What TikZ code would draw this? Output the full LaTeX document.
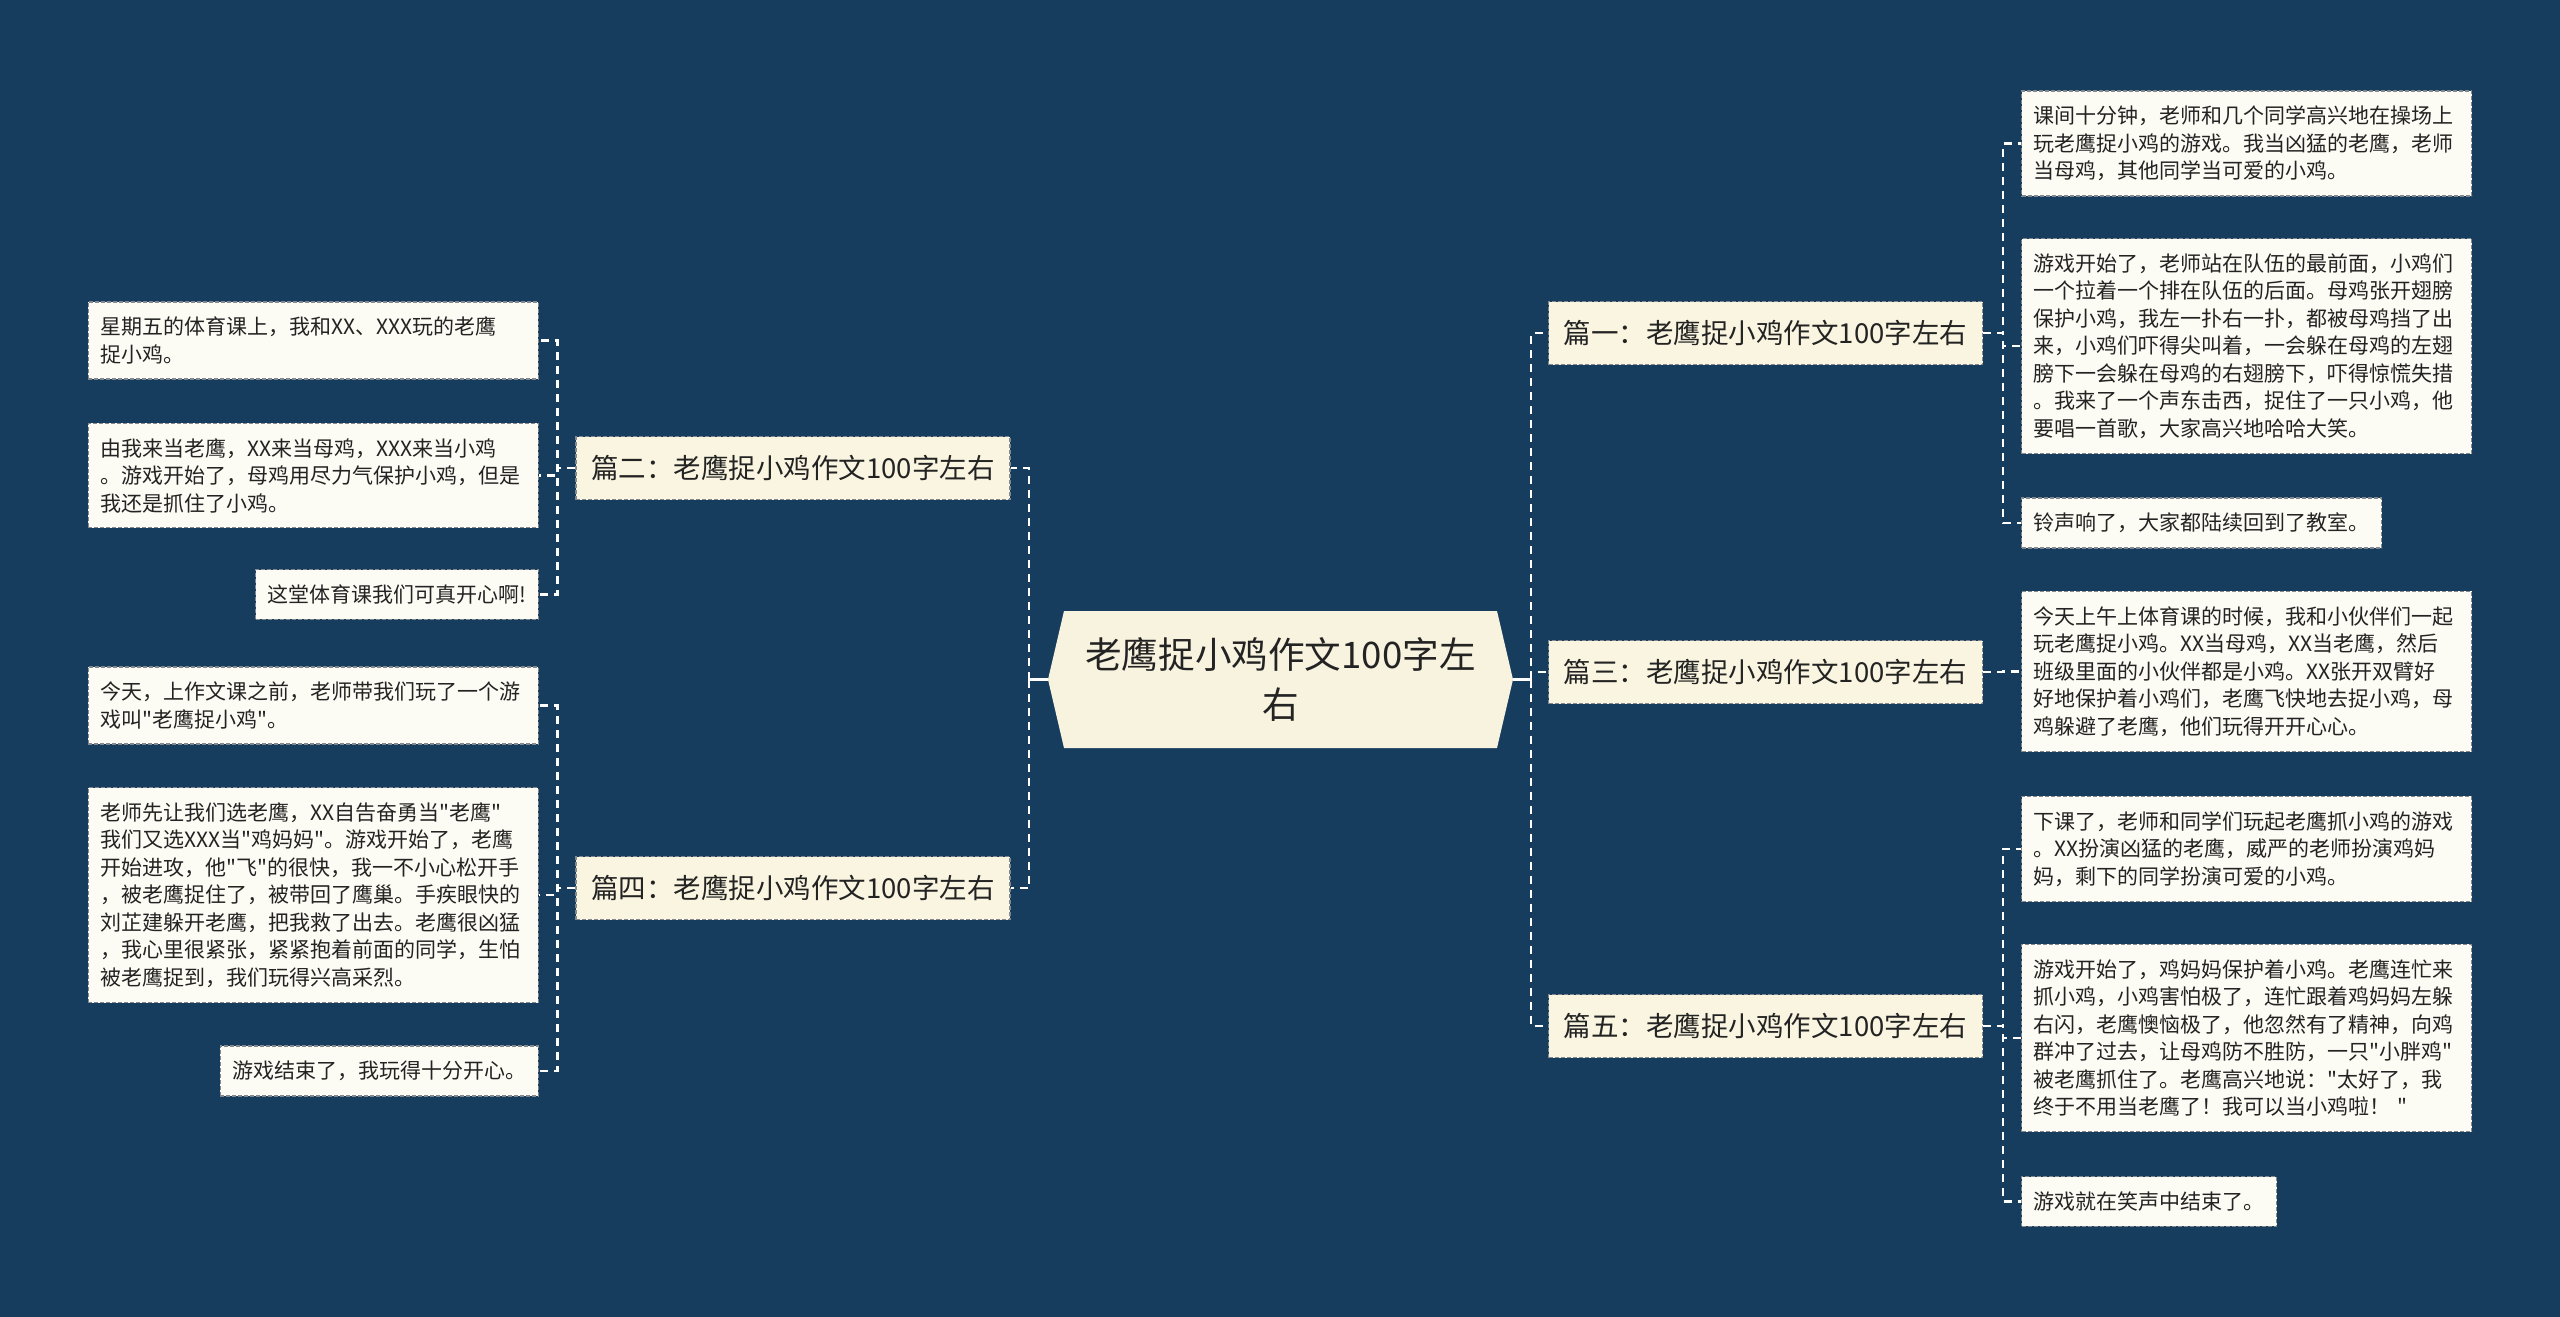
\documentclass[tikz,border=0pt]{standalone}
\usepackage{fontspec}
\setmainfont{Noto Sans CJK SC}
\newfontfamily\zhfont{Noto Sans CJK SC}

\definecolor{bgnavy}{RGB}{23,61,94}
\definecolor{leaffill}{RGB}{253,252,244}
\definecolor{topicfill}{RGB}{249,245,224}
\definecolor{rootfill}{RGB}{248,243,222}
\definecolor{edgegray}{RGB}{130,136,142}
\definecolor{inkgray}{RGB}{35,35,35}

\begin{document}
\begin{tikzpicture}[x=0.5pt, y=-0.5pt,
  leaf/.style={fill=leaffill, draw=edgegray, line width=0.6pt, dash pattern=on 2pt off 1pt,
    text=inkgray, font=\zhfont\fontsize{10.5pt}{13.75pt}\selectfont, align=left,
    inner xsep=6pt, inner ysep=7.5pt},
  leafwide/.style={leaf, text width=213pt},
  topic/.style={fill=topicfill, draw=edgegray, line width=0.6pt, dash pattern=on 2pt off 1pt,
    text=inkgray, font=\zhfont\fontsize{13.75pt}{16pt}\selectfont,
    minimum width=217pt, minimum height=31.5pt, inner sep=0pt},
  roottext/.style={text=inkgray, font=\zhfont\fontsize{18.3pt}{25pt}\selectfont, align=center,
    minimum width=232.5pt, minimum height=68.5pt, inner sep=0pt},
  link/.style={draw=white, line width=1.2pt, dash pattern=on 4pt off 3pt},
  stub/.style={draw=white, line width=1.5pt}]

% Background
\fill[bgnavy] (0,0) rectangle (2560,1317);

% Root
\fill[rootfill] (1048,679.5) -- (1064,611) -- (1497,611) -- (1513,679.5)
  -- (1497,748) -- (1064,748) -- cycle;
\node[roottext] (root) at (1280.5,679.5) {老鹰捉小鸡作文100字左\\右};
\coordinate (busL) at (1029,679.5);
\coordinate (busR) at (1531,679.5);

% Topics
\node[topic] (p1) at (1765.5,333) {篇一：老鹰捉小鸡作文100字左右};
\node[topic] (p3) at (1765.5,672) {篇三：老鹰捉小鸡作文100字左右};
\node[topic] (p5) at (1765.5,1026) {篇五：老鹰捉小鸡作文100字左右};
\node[topic] (p2) at (793,468) {篇二：老鹰捉小鸡作文100字左右};
\node[topic] (p4) at (793,888) {篇四：老鹰捉小鸡作文100字左右};

% Right leaves
\node[leafwide, anchor=west] (p1a) at (2021,143.5) {课间十分钟，老师和几个同学高兴地在操场上\\玩老鹰捉小鸡的游戏。我当凶猛的老鹰，老师\\当母鸡，其他同学当可爱的小鸡。};
\node[leafwide, anchor=west] (p1b) at (2021,346) {游戏开始了，老师站在队伍的最前面，小鸡们\\一个拉着一个排在队伍的后面。母鸡张开翅膀\\保护小鸡，我左一扑右一扑，都被母鸡挡了出\\来，小鸡们吓得尖叫着，一会躲在母鸡的左翅\\膀下一会躲在母鸡的右翅膀下，吓得惊慌失措\\。我来了一个声东击西，捉住了一只小鸡，他\\要唱一首歌，大家高兴地哈哈大笑。};
\node[leaf, anchor=west] (p1c) at (2021,523) {铃声响了，大家都陆续回到了教室。};
\node[leafwide, anchor=west] (p3a) at (2021,671.5) {今天上午上体育课的时候，我和小伙伴们一起\\玩老鹰捉小鸡。XX当母鸡，XX当老鹰，然后\\班级里面的小伙伴都是小鸡。XX张开双臂好\\好地保护着小鸡们，老鹰飞快地去捉小鸡，母\\鸡躲避了老鹰，他们玩得开开心心。};
\node[leafwide, anchor=west] (p5a) at (2021,849) {下课了，老师和同学们玩起老鹰抓小鸡的游戏\\。XX扮演凶猛的老鹰，威严的老师扮演鸡妈\\妈，剩下的同学扮演可爱的小鸡。};
\node[leafwide, anchor=west] (p5b) at (2021,1038) {游戏开始了，鸡妈妈保护着小鸡。老鹰连忙来\\抓小鸡，小鸡害怕极了，连忙跟着鸡妈妈左躲\\右闪，老鹰懊恼极了，他忽然有了精神，向鸡\\群冲了过去，让母鸡防不胜防，一只"小胖鸡"\\被老鹰抓住了。老鹰高兴地说："太好了，我\\终于不用当老鹰了！我可以当小鸡啦！ "};
\node[leaf, anchor=west] (p5c) at (2021,1201.5) {游戏就在笑声中结束了。};

% Left leaves
\node[leafwide, anchor=east] (p2a) at (539,340.5) {星期五的体育课上，我和XX、XXX玩的老鹰\\捉小鸡。};
\node[leafwide, anchor=east] (p2b) at (539,475.5) {由我来当老鹰，XX来当母鸡，XXX来当小鸡\\。游戏开始了，母鸡用尽力气保护小鸡，但是\\我还是抓住了小鸡。};
\node[leaf, anchor=east] (p2c) at (539,594.5) {这堂体育课我们可真开心啊!};
\node[leafwide, anchor=east] (p4a) at (539,705.5) {今天，上作文课之前，老师带我们玩了一个游\\戏叫"老鹰捉小鸡"。};
\node[leafwide, anchor=east] (p4b) at (539,895) {老师先让我们选老鹰，XX自告奋勇当"老鹰"\\我们又选XXX当"鸡妈妈"。游戏开始了，老鹰\\开始进攻，他"飞"的很快，我一不小心松开手\\，被老鹰捉住了，被带回了鹰巢。手疾眼快的\\刘芷建躲开老鹰，把我救了出去。老鹰很凶猛\\，我心里很紧张，紧紧抱着前面的同学，生怕\\被老鹰捉到，我们玩得兴高采烈。};
\node[leaf, anchor=east] (p4c) at (539,1071) {游戏结束了，我玩得十分开心。};

% Root to topics
\draw[stub] (root.east) -- (busR);
\draw[stub] (root.west) -- (busL);
\foreach \p in {p1,p3,p5} \draw[link] (busR) |- (\p.west);
\foreach \p in {p2,p4} \draw[link] (busL) |- (\p.east);

% Topics to leaves
\foreach \q in {p1a,p1b,p1c} \draw[link] (p1.east) -- ++(20,0) |- (\q.west);
\foreach \q in {p3a} \draw[link] (p3.east) -- ++(20,0) |- (\q.west);
\foreach \q in {p5a,p5b,p5c} \draw[link] (p5.east) -- ++(20,0) |- (\q.west);
\foreach \q in {p2a,p2b,p2c} \draw[link] (p2.west) -- ++(-18,0) |- (\q.east);
\foreach \q in {p4a,p4b,p4c} \draw[link] (p4.west) -- ++(-18,0) |- (\q.east);

\end{tikzpicture}
\end{document}
